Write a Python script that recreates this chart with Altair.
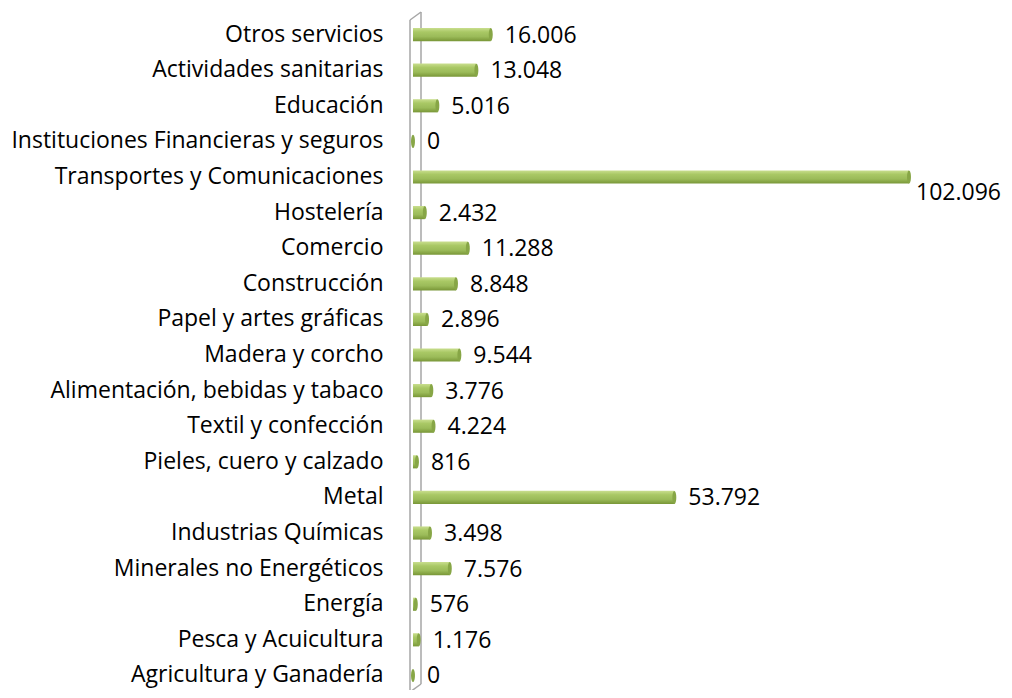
import altair as alt
import pandas as pd

categories = [
    "Otros servicios",
    "Actividades sanitarias",
    "Educación",
    "Instituciones Financieras y seguros",
    "Transportes y Comunicaciones",
    "Hostelería",
    "Comercio",
    "Construcción",
    "Papel y artes gráficas",
    "Madera y corcho",
    "Alimentación, bebidas y tabaco",
    "Textil y confección",
    "Pieles, cuero y calzado",
    "Metal",
    "Industrias Químicas",
    "Minerales no Energéticos",
    "Energía",
    "Pesca y Acuicultura",
    "Agricultura y Ganadería",
]
values = [16006, 13048, 5016, 0, 102096, 2432, 11288, 8848, 2896, 9544,
          3776, 4224, 816, 53792, 3498, 7576, 576, 1176, 0]


def fmt(v):
    return f"{v:,}".replace(",", ".")


df = pd.DataFrame({
    "cat": categories,
    "value": values,
    "label": [fmt(v) for v in values],
    "ismax": [v == max(values) for v in values],
})

FONT = "Open Sans"
FS = 23

y_enc = alt.Y(
    "cat:N",
    sort=categories,
    scale=alt.Scale(paddingInner=0.63, paddingOuter=0),
    axis=alt.Axis(
        title=None, ticks=False, domain=False, grid=False,
        labelPadding=30, labelFont=FONT, labelFontSize=FS,
        labelColor="#000000", labelLimit=600,
    ),
)
x_enc = alt.X(
    "value:Q",
    scale=alt.Scale(domain=[0, 102096], nice=False, zero=True),
    axis=None,
)

base = alt.Chart(df)

grad = alt.Gradient(
    gradient="linear",
    x1=0, x2=0, y1=0, y2=1,
    stops=[
        alt.GradientStop(color="#c9de8e", offset=0),
        alt.GradientStop(color="#a9c865", offset=0.3),
        alt.GradientStop(color="#9bbb59", offset=0.65),
        alt.GradientStop(color="#789637", offset=1),
    ],
)

bars = base.mark_bar(color=grad).encode(x=x_enc, y=y_enc)

ellipse = "M0,-1 A0.3,1 0 1,1 0,1 A0.3,1 0 1,1 0,-1 Z"
caps = base.mark_point(
    shape=ellipse, filled=True, size=170, color="#87a646", opacity=1
).encode(x=x_enc, y=y_enc)

labels = base.transform_filter("!datum.ismax").mark_text(
    align="left", baseline="middle", dx=14, dy=1,
    font=FONT, fontSize=FS, color="#000000",
).encode(x=x_enc, y=y_enc, text="label:N")

labels_max = base.transform_filter("datum.ismax").mark_text(
    align="left", baseline="middle", dx=7, dy=16,
    font=FONT, fontSize=FS, color="#000000",
).encode(x=x_enc, y=y_enc, text="label:N")

wall_color = "#a6a6a6"
one = df.head(1)
wall = alt.layer(
    alt.Chart(one).mark_rule(color=wall_color, strokeWidth=1.5).encode(
        x=alt.value(-3), x2=alt.value(-3), y=alt.value(-8), y2=alt.value(664)),
    alt.Chart(one).mark_rule(color=wall_color, strokeWidth=1.5).encode(
        x=alt.value(8), x2=alt.value(8), y=alt.value(-16), y2=alt.value(656)),
    alt.Chart(one).mark_rule(color=wall_color, strokeWidth=1.5).encode(
        x=alt.value(-3), x2=alt.value(8), y=alt.value(-8), y2=alt.value(-16)),
    alt.Chart(one).mark_rule(color=wall_color, strokeWidth=1.5).encode(
        x=alt.value(-3), x2=alt.value(8), y=alt.value(664), y2=alt.value(656)),
)

chart = alt.layer(wall, bars, caps, labels, labels_max).properties(
    width=496,
    height=654,
    background="white",
    autosize=alt.AutoSizeParams(type="none"),
    padding={"left": 405, "top": 20, "right": 95, "bottom": 8},
).configure_view(strokeWidth=0, stroke=None)

chart.save("out.html", embed_options={"renderer": "svg", "actions": False})
